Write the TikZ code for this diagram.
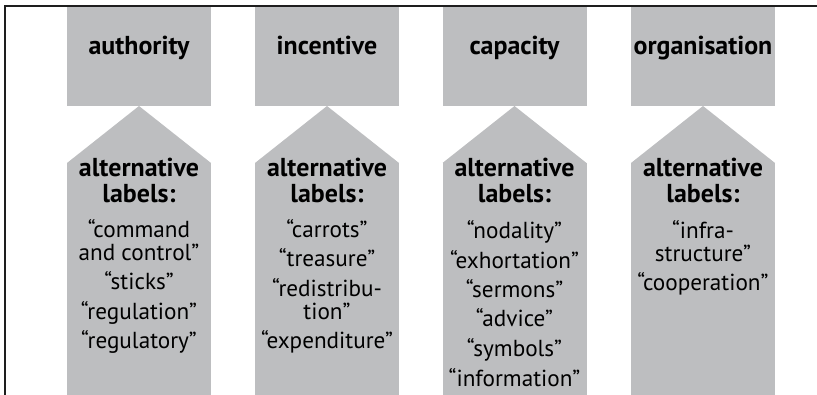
\documentclass[tikz,border=0pt]{standalone}
\usepackage{fontspec}
\setmainfont{PT Sans}
\definecolor{boxgray}{RGB}{189,190,192}
\definecolor{rulecol}{RGB}{30,30,30}
\newlength\probe
\newlength\probeb
\begin{document}
% font sizes derived from the widths of sample words
\settowidth\probe{\fontsize{10}{12}\selectfont\bfseries alternative}%
\settowidth\probeb{\fontsize{10}{12}\selectfont\bfseries authority}%
\pgfmathsetmacro\bsize{5*115/\probe+5*105/\probeb}%
\settowidth\probe{\fontsize{10}{12}\selectfont “exhortation”}%
\settowidth\probeb{\fontsize{10}{12}\selectfont “command}%
\pgfmathsetmacro\rsize{5*129/\probe+5*102/\probeb}%
\begin{tikzpicture}[x=1pt,y=-1pt]
  \tikzset{
    head/.style={anchor=base, inner sep=0pt,
      font=\fontsize{\bsize}{26.3}\selectfont\bfseries},
    altlab/.style={anchor=base, inner sep=0pt, align=center,
      font=\fontsize{\bsize}{26.3}\selectfont\bfseries},
    body/.style={anchor=base, inner sep=0pt, align=center,
      font=\fontsize{\rsize}{23}\selectfont},
    pillar/.style={fill=boxgray},
  }
  \useasboundingbox (0,0) rectangle (817,395);

  % grey pillars: head box, arrow tip, label column
  \foreach \xc in {139,327,514.5,703}{
    \fill[pillar] (\xc-72,7) rectangle (\xc+72,106);
    \fill[pillar] (\xc,106) -- (\xc+72,163) -- (\xc-72,163) -- cycle;
    \fill[pillar] (\xc-72,163) rectangle (\xc+72,395);
  }

  % frame on the left and top edges
  \draw[rulecol, line width=1.3pt] (5,395) -- (5,6) -- (817,6);

  % headings
  \node[head] (h1) at (139,55) {authority};
  \node[head] (h2) at (327,55) {incentive};
  \node[head] (h3) at (514.5,55) {capacity};
  \node[head] (h4) at (703,55) {organisation};

  % "alternative labels:" captions (anchored at the last line)
  \foreach \xc/\n in {139/1,327/2,514.5/3,703/4}{
    \node[altlab] (a\n) at (\xc,203) {alternative\\labels:};
  }

  % label lists (anchored at the last line); wrapped lines 23pt apart,
  % separate entries 29.5pt apart
  \node[body] (b1) at (139,349)
    {“command\\and control”\\[6.5pt]“sticks”\\[6.5pt]“regulation”\\[6.5pt]“regulatory”};
  \node[body] (b2) at (327,349)
    {“carrots”\\[6.5pt]“treasure”\\[6.5pt]“redistribu-\\tion”\\[6.5pt]“expenditure”};
  \node[body] (b3) at (514.5,386)
    {“nodality”\\[6.5pt]“exhortation”\\[6.5pt]“sermons”\\[6.5pt]“advice”\\[6.5pt]“symbols”\\[6.5pt]“information”};
  \node[body] (b4) at (703,291)
    {“infra-\\structure”\\[6.5pt]“cooperation”};
\end{tikzpicture}
\end{document}
